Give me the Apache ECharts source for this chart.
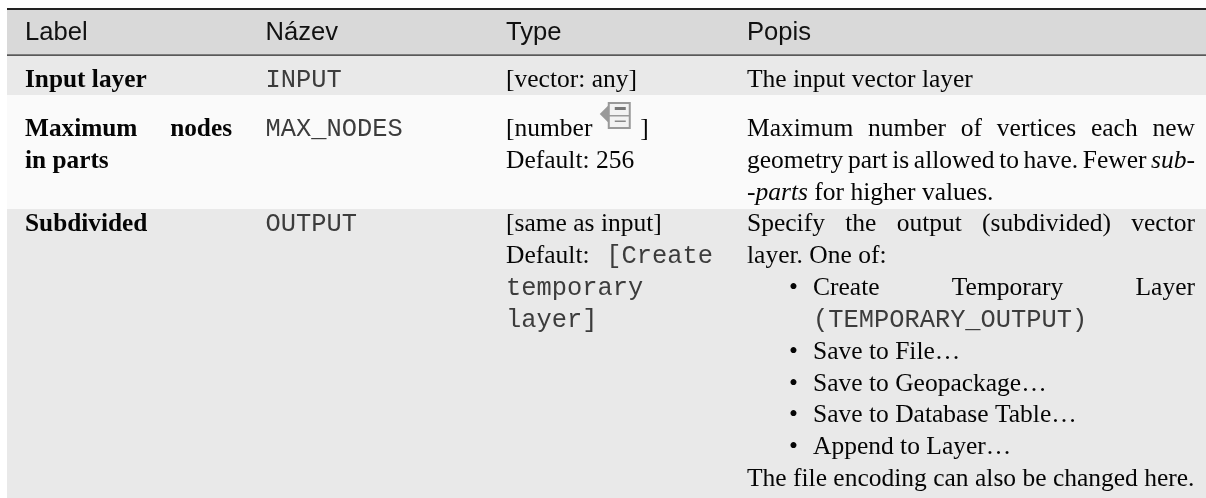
<!DOCTYPE html>
<html>
<head>
<meta charset="utf-8">
<style>
  html, body { margin: 0; padding: 0; background: #fff; }
  #main { width: 1206px; height: 498px; }
</style>
<script src="https://cdn.jsdelivr.net/npm/echarts@6/dist/echarts.min.js"></script>
</head>
<body>
<div id="main"></div>
<script>
// table text. {m|..} = mono, {i|..} = italic, {b|..} = bold, a leading ">" = justified line
const headers = ['Label', 'Název', 'Type', 'Popis'];
const labelCells = [
  ['{b|Input layer}'],
  ['>{b|Maximum nodes}', '{b|in parts}'],
  ['{b|Subdivided}']
];
const nameCells = [
  ['{m|INPUT}'],
  ['{m|MAX_NODES}'],
  ['{m|OUTPUT}']
];
const typeCells = [
  ['[vector: any]'],
  ['[number @ ]', 'Default: 256'],
  ['[same as input]', '>Default: {m|[Create}', '{m|temporary}', '{m|layer]}']
];
const descCells = [
  ['The input vector layer'],
  ['>Maximum number of vertices each new', '>geometry part is allowed to have. Fewer {i|sub-}', '{i|-parts} for higher values.'],
  ['>Specify the output (subdivided) vector', 'layer. One of:',
   '*>Create Temporary Layer', '+{m|(TEMPORARY_OUTPUT)}',
   '*Save to File…', '*Save to Geopackage…', '*Save to Database Table…', '*Append to Layer…',
   'The file encoding can also be changed here.']
];

// layout
const colX = [25, 265.5, 506, 747];
const colRight = [232, 480, 713, 1195];
const rowBands = [[10, 55, '#d9d9d9'], [56, 95, '#e9e9e9'], [95, 209, '#fafafa'], [209, 498, '#e9e9e9']];
const tableLeft = 7;
const firstBaseline = [87, 136, 231];
const lineStep = 31.9;
const fonts = {
  n: '25.5px "Liberation Serif"',
  b: 'bold 25.3px "Liberation Serif"',
  i: 'italic 25.5px "Liberation Serif"',
  m: '25.4px "Liberation Mono"',
  h: '25.6px "Liberation Sans"'
};
const inkColor = { n: '#050505', b: '#050505', i: '#050505', h: '#111', m: '#3c3c3c' };

const measure = document.createElement('canvas').getContext('2d');
const widthOf = (text, font) => { measure.font = font; return measure.measureText(text).width; };
// zrender draws with a middle baseline, so move from the wanted baseline to the middle
const middleOffset = font => {
  measure.font = font;
  measure.textBaseline = 'middle';
  return measure.measureText('x').alphabeticBaseline;
};

// split one line into words, each with its font
const parseLine = line => {
  const words = [];
  line.split(/(\{[bim]\|[^}]*\})/).filter(Boolean).forEach(part => {
    const m = part.match(/^\{([bim])\|(.*)\}$/);
    const font = m ? m[1] : 'n';
    (m ? m[2] : part).trim().split(/\s+/).filter(Boolean).forEach(t => words.push({ t, font }));
  });
  return words;
};

const graphics = [];
const addWord = (t, x, baseline, key) => graphics.push({
  type: 'text', silent: true, x, y: baseline + middleOffset(fonts[key]),
  style: { text: t, font: fonts[key], fill: inkColor[key], textAlign: 'left', textVerticalAlign: 'middle' }
});

// the little "select" icon behind [number ]
const addIcon = (x, baseline) => {
  const top = baseline - 34;
  graphics.push({ type: 'polygon', silent: true, shape: { points: [[x, top + 12], [x + 9, top + 3], [x + 9, top + 21]] }, style: { fill: '#999' } });
  graphics.push({ type: 'rect', silent: true, shape: { x: x + 9, y: top + 1, width: 21, height: 25 }, style: { fill: '#f2f2f2', stroke: '#999', lineWidth: 2 } });
  graphics.push({ type: 'rect', silent: true, shape: { x: x + 9, y: top + 13, width: 21, height: 1.5 }, style: { fill: '#999' } });
  graphics.push({ type: 'rect', silent: true, shape: { x: x + 15, y: top + 5, width: 11, height: 3 }, style: { fill: '#777' } });
  graphics.push({ type: 'rect', silent: true, shape: { x: x + 15, y: top + 18.5, width: 11, height: 1.5 }, style: { fill: '#888' } });
};

const addLine = (line, left, right, baseline) => {
  const justify = line.startsWith('>');
  const words = parseLine(justify ? line.slice(1) : line);
  const total = words.reduce((s, w) => s + widthOf(w.t, fonts[w.font]), 0);
  const space = widthOf(' ', fonts.n);
  const gap = justify && words.length > 1 ? (right - left - total) / (words.length - 1) : space;
  let x = left;
  words.forEach(w => {
    if (w.t === '@') { addIcon(x + 1, baseline); x += 41.5; return; }
    addWord(w.t, x, baseline, w.font);
    x += widthOf(w.t, fonts[w.font]) + gap;
  });
};

rowBands.forEach(([y0, y1, fill]) => graphics.push({
  type: 'rect', silent: true, shape: { x: tableLeft, y: y0, width: 1206 - tableLeft, height: y1 - y0 }, style: { fill }
}));
[[8, 2], [54.5, 1.2]].forEach(([y, h]) => graphics.push({
  type: 'rect', silent: true, shape: { x: tableLeft, y, width: 1206 - tableLeft, height: h }, style: { fill: '#222' }
}));

headers.forEach((h, c) => addWord(h, colX[c], 40, 'h'));

[labelCells, nameCells, typeCells, descCells].forEach((cells, c) => {
  cells.forEach((lines, r) => {
    lines.forEach((line, i) => {
      const baseline = firstBaseline[r] + i * lineStep;
      let left = colX[c];
      let text = line;
      if (line[0] === '*') {
        addWord('•', colX[c] + 42, baseline, 'n');
        left = colX[c] + 66;
        text = line.slice(1);
      } else if (line[0] === '+') {
        left = colX[c] + 66;
        text = line.slice(1);
      }
      addLine(text, left, colRight[c], baseline);
    });
  });
});

const chart = echarts.init(document.getElementById('main'), null, { renderer: 'canvas' });
chart.setOption({ animation: false, backgroundColor: '#fff', graphic: { elements: graphics } });
</script>
</body>
</html>
